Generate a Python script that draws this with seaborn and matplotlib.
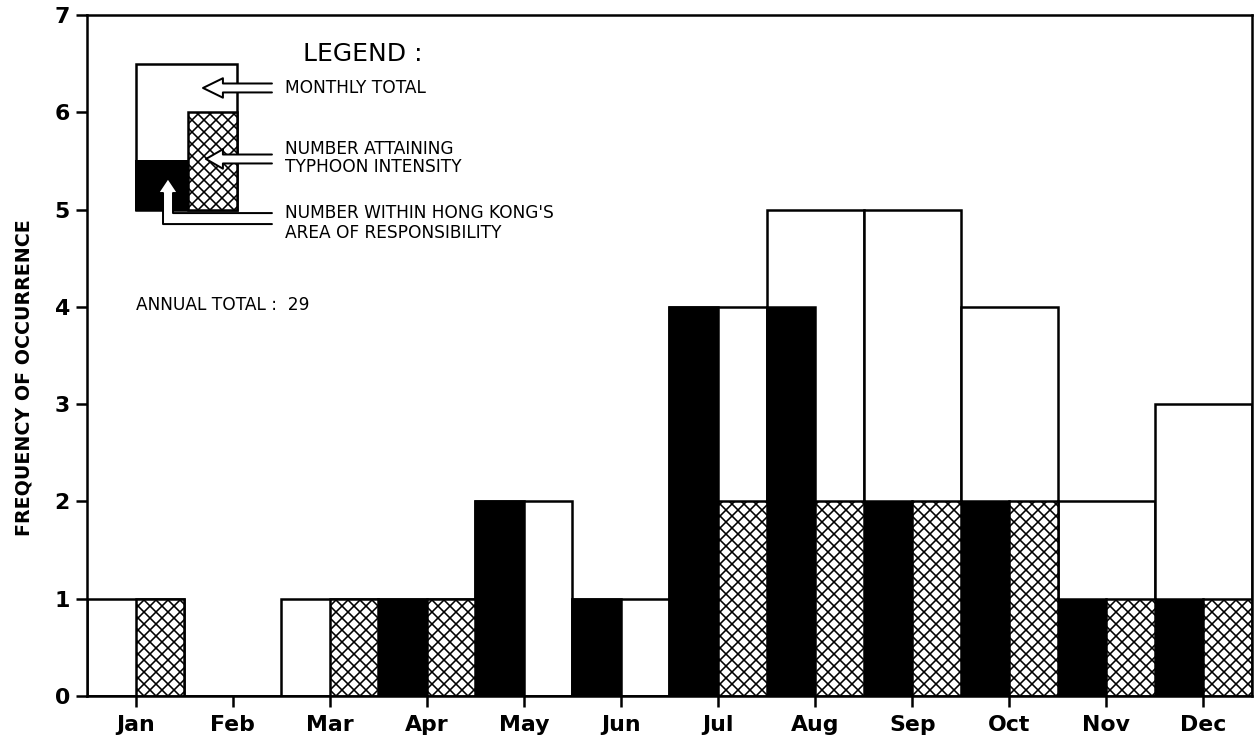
import matplotlib
matplotlib.use("Agg")
import matplotlib.pyplot as plt
from matplotlib.patches import Rectangle, Polygon
import pandas as pd
import seaborn as sns

months = ['Jan', 'Feb', 'Mar', 'Apr', 'May', 'Jun',
          'Jul', 'Aug', 'Sep', 'Oct', 'Nov', 'Dec']
monthly_total = [1, 0, 1, 1, 2, 1, 4, 5, 5, 4, 2, 3]
hk_count = [0, 0, 0, 1, 2, 1, 4, 4, 2, 2, 1, 1]
typhoon_count = [1, 0, 1, 1, 0, 0, 2, 2, 2, 2, 1, 1]
annual_total = 29

DPI = 72
sns.set_style('ticks')
plt.rcParams['font.family'] = ['DejaVu Sans']
plt.rcParams['hatch.linewidth'] = 1.6
plt.rcParams['text.color'] = 'black'
plt.rcParams['axes.edgecolor'] = 'black'
plt.rcParams['axes.labelcolor'] = 'black'
plt.rcParams['xtick.color'] = 'black'
plt.rcParams['ytick.color'] = 'black'

totals = pd.DataFrame({'month': months, 'count': monthly_total})
halves = pd.concat([
    pd.DataFrame({'month': months, 'kind': 'hk', 'count': hk_count}),
    pd.DataFrame({'month': months, 'kind': 'typhoon', 'count': typhoon_count}),
])

fig = plt.figure(figsize=(1254 / DPI, 744 / DPI), dpi=DPI)
ax = fig.add_axes([87 / 1254, 48 / 744, 1165 / 1254, 681 / 744])

# full-width white box = monthly total
sns.barplot(data=totals, x='month', y='count', order=months, color='white',
            saturation=1, edgecolor='black', linewidth=2.5, width=1,
            errorbar=None, ax=ax)
# left half black (HK area), right half hatched (typhoon)
sns.barplot(data=halves, x='month', y='count', hue='kind', order=months,
            hue_order=['hk', 'typhoon'],
            palette={'hk': 'black', 'typhoon': 'white'}, saturation=1,
            edgecolor='black', linewidth=2.5, width=1, dodge=True,
            errorbar=None, legend=False, ax=ax)
for p in ax.containers[2]:
    p.set_hatch('xx')

ax.set_xlim(-0.5, 11.5)
ax.set_ylim(0, 7)
ax.set_yticks(range(8))
ax.set_xlabel('')
ax.set_ylabel('FREQUENCY OF OCCURRENCE', fontsize=19, fontweight='bold')
ax.yaxis.set_label_coords(-0.046, 0.467)
for s in ax.spines.values():
    s.set_linewidth(2.5)
ax.tick_params(axis='both', direction='out', length=11, width=2.5,
               labelsize=22)
ax.tick_params(axis='x', pad=8)
ax.tick_params(axis='y', pad=6)
for lab in ax.get_xticklabels() + ax.get_yticklabels():
    lab.set_fontweight('bold')

# legend drawing
ax.add_patch(Rectangle((0.0, 5.0), 1.05, 1.5, facecolor='white',
                       edgecolor='black', lw=2.5, zorder=3))
ax.add_patch(Rectangle((0.0, 5.0), 0.54, 0.5, facecolor='black',
                       edgecolor='black', lw=2, zorder=3))
ax.add_patch(Rectangle((0.54, 5.0), 0.51, 1.0, facecolor='white',
                       edgecolor='black', lw=2.5, hatch='xx', zorder=3))


def hollow_arrow(pts):
    ax.add_patch(Polygon(pts, closed=True, facecolor='white',
                         edgecolor='none', zorder=4))
    xs, ys = zip(*pts)
    ax.plot(xs, ys, color='black', lw=2, zorder=5)


hollow_arrow([(1.405, 6.296), (0.90, 6.296), (0.90, 6.35), (0.695, 6.25),
              (0.90, 6.15), (0.90, 6.204), (1.405, 6.204)])
hollow_arrow([(1.405, 5.566), (0.90, 5.566), (0.90, 5.62), (0.725, 5.52),
              (0.90, 5.42), (0.90, 5.474), (1.405, 5.474)])
hollow_arrow([(1.405, 4.964), (0.386, 4.964), (0.386, 5.17), (0.437, 5.17),
              (0.334, 5.324), (0.231, 5.17), (0.283, 5.17), (0.283, 4.851),
              (1.405, 4.851)])

ax.text(1.72, 6.6, 'LEGEND :', fontsize=25, va='center', ha='left')
small = dict(fontsize=17, va='center', ha='left')
ax.text(1.54, 6.25, 'MONTHLY TOTAL', **small)
ax.text(1.54, 5.62, 'NUMBER ATTAINING', **small)
ax.text(1.54, 5.44, 'TYPHOON INTENSITY', **small)
ax.text(1.54, 4.96, "NUMBER WITHIN HONG KONG'S", **small)
ax.text(1.54, 4.76, 'AREA OF RESPONSIBILITY', **small)
ax.text(0.0, 4.02, f'ANNUAL TOTAL :  {annual_total}', **small)

fig.savefig('out.png', dpi=DPI, facecolor='white')
